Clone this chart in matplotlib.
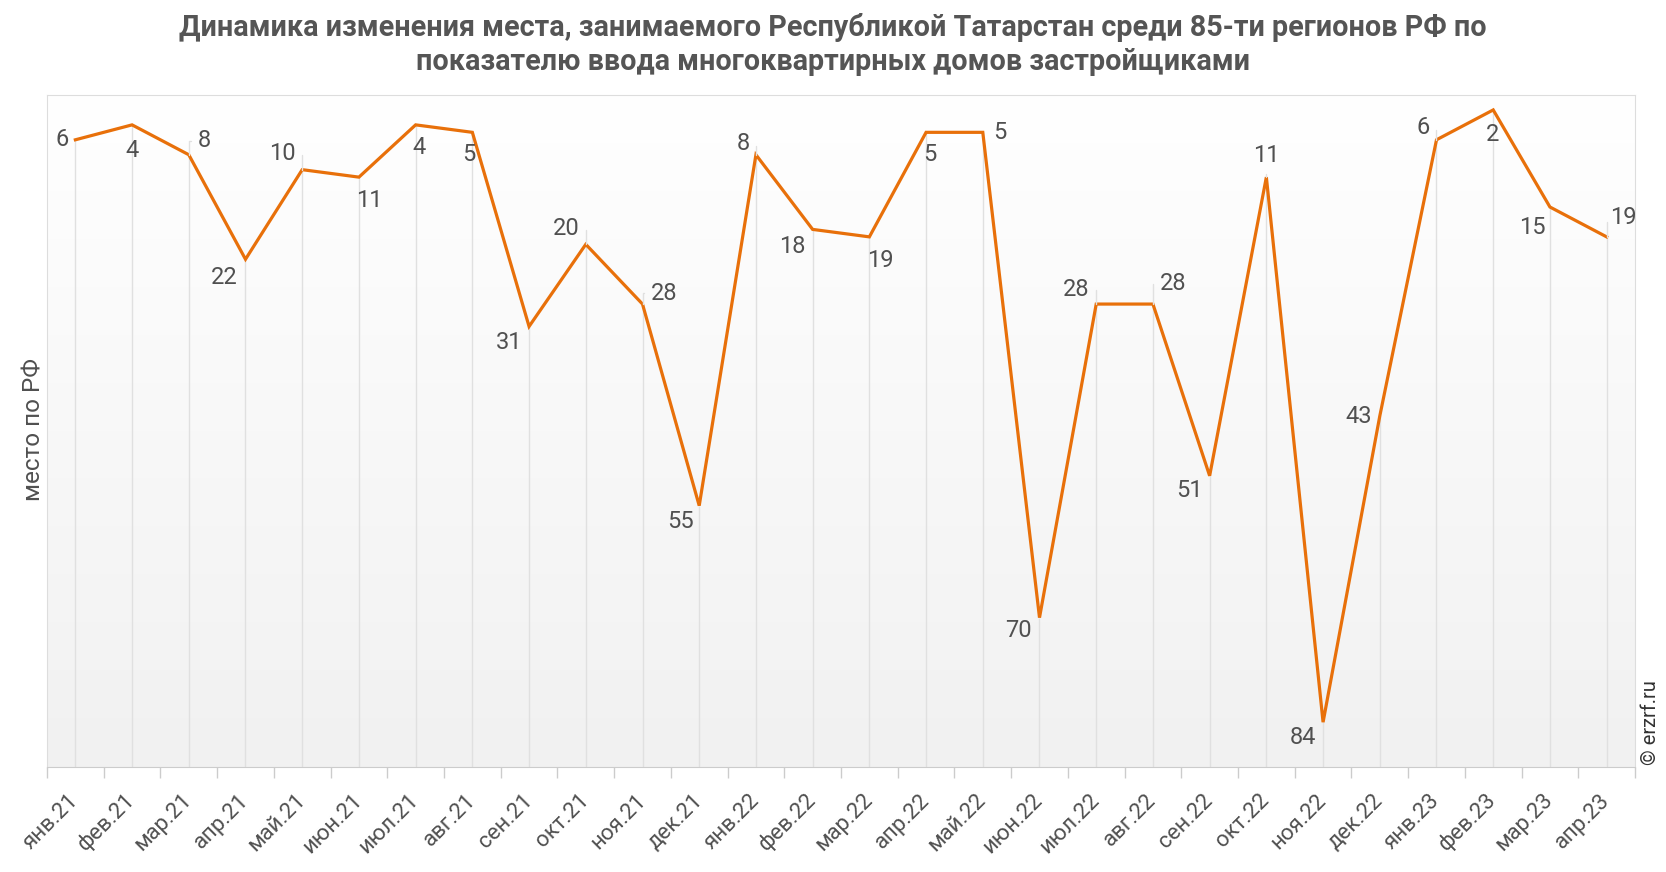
import numpy as np
import matplotlib
matplotlib.use("Agg")
import matplotlib.pyplot as plt
import matplotlib.transforms as mtransforms
from matplotlib.colors import LinearSegmentedColormap

plt.rcParams['font.family'] = ['Roboto', 'DejaVu Sans']

# ---- data ----
months = ['янв.21', 'фев.21', 'мар.21', 'апр.21', 'май.21', 'июн.21', 'июл.21',
          'авг.21', 'сен.21', 'окт.21', 'ноя.21', 'дек.21', 'янв.22', 'фев.22',
          'мар.22', 'апр.22', 'май.22', 'июн.22', 'июл.22', 'авг.22', 'сен.22',
          'окт.22', 'ноя.22', 'дек.22', 'янв.23', 'фев.23', 'мар.23', 'апр.23']
places = [6, 4, 8, 22, 10, 11, 4, 5, 31, 20, 28, 55, 8, 18,
          19, 5, 5, 70, 28, 28, 51, 11, 84, 43, 6, 2, 15, 19]

# label offsets in pixels (layout only)
label_dx = [-13, 0, 16, -21, -20, 10, 3, -3, -20, -20, 22, -19, -13, -20,
            11, 4, 17, -21, -20, 20, -20, 0, -20, -21, -13, -1, -18, 17]
label_dy = [0, -26, 14, -18, 16, -23, -23, -22, -16, 16, 11, -16, 11, -17,
            -24, -22, 0, -13, 15, 21, -15, 22, -15, 0, 12, -25, -20, 19]

title = ('Динамика изменения места, занимаемого Республикой Татарстан среди 85-ти регионов РФ по\n'
         'показателю ввода многоквартирных домов застройщиками')

line_color = '#e8700a'
text_color = '#505050'
grid_color = '#e0e0e0'

fig = plt.figure(figsize=(16.66, 8.72), dpi=100)
ax = fig.add_axes([47/1666, 1-767/872, (1635-47)/1666, (767-95)/872])

# background gradient white -> light grey
cmap = LinearSegmentedColormap.from_list('bg', ['#f1f1f1', '#ffffff'])
grad = np.linspace(0, 1, 256).reshape(-1, 1)
ax.imshow(grad, extent=[0, 1, 0, 1], transform=ax.transAxes, origin='lower',
          aspect='auto', cmap=cmap, zorder=0)

x = np.arange(len(months))
ax.set_xlim(-0.5, len(months) - 0.5)
ax.set_ylim(90, 0)

ax.vlines(x, 90, places, color=grid_color, lw=1, zorder=1)
ax.plot(x, places, color=line_color, lw=2.3, zorder=3, solid_joinstyle='miter')

for xi, v, dx, dy in zip(x, places, label_dx, label_dy):
    kw = {}
    if dy > 5:
        kw['arrowprops'] = dict(arrowstyle='-', color=grid_color, lw=1,
                                shrinkA=3, shrinkB=0,
                                connectionstyle='angle,angleA=0,angleB=90,rad=0')
    ax.annotate(str(v), (xi, v), xytext=(dx, dy), textcoords='offset pixels',
                ha='center', va='center', fontsize=17, color=text_color,
                zorder=4, **kw)

# axes styling
for side in ['left', 'top', 'right']:
    ax.spines[side].set_color('#dddddd')
ax.spines['bottom'].set_color('#cccccc')
ax.set_yticks([])
ax.set_xticks(x)
ax.set_xticklabels(months, rotation=45, ha='right', va='baseline',
                   rotation_mode='anchor', fontsize=16, color=text_color)
ax.tick_params(axis='x', which='major', length=0, pad=24.5)
shift = mtransforms.ScaledTranslation(4/100, 0, fig.dpi_scale_trans)
for lab in ax.get_xticklabels():
    lab.set_transform(lab.get_transform() + shift)
ax.set_xticks(np.arange(len(months) + 1) - 0.5, minor=True)
ax.tick_params(axis='x', which='minor', length=8, color='#cccccc', width=1)

fig.text(0.5, 1 - 44.5/872, title, ha='center', va='center', fontsize=20.7,
         fontweight='bold', color='#555555', linespacing=1.3)
fig.text(34/1666, 1 - 430/872, 'место по РФ', rotation=90, ha='center',
         va='center', fontsize=17.5, color=text_color)
fig.text(1651/1666, 1 - 765/872, '© erzrf.ru', rotation=90, ha='center',
         va='bottom', fontsize=14.5, color='#333333')

fig.savefig('out.png', dpi=100)
